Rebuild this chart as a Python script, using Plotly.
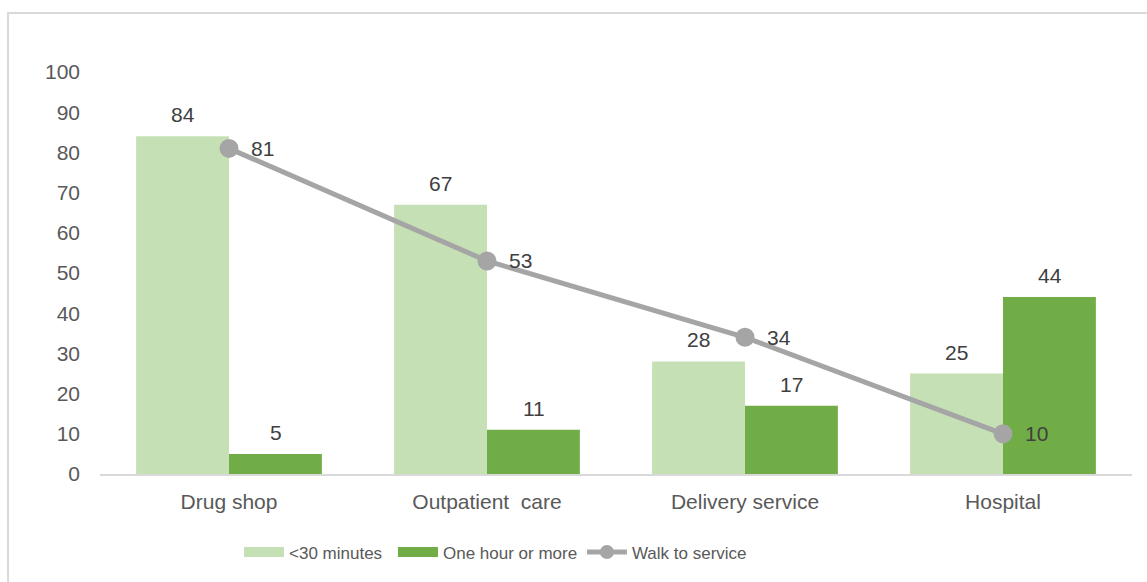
import plotly.graph_objects as go

categories = ["Drug shop", "Outpatient  care", "Delivery service", "Hospital"]
under_30_min = [84, 67, 28, 25]
one_hour_plus = [5, 11, 17, 44]
walk_to_service = [81, 53, 34, 10]
y_ticks = [0, 10, 20, 30, 40, 50, 60, 70, 80, 90, 100]

FONT = "Liberation Sans, Arial, sans-serif"
LABEL_COLOR = "#404040"
TICK_COLOR = "#595959"
SIZE = 21
LEGEND_SIZE = 17
LIGHT = "#C5E0B4"
DARK = "#70AD47"
GREY = "#A5A5A5"

fig = go.Figure()

fig.add_trace(go.Bar(
    x=categories, y=under_30_min, name="<30 minutes", legend="legend",
    marker=dict(color=LIGHT, line=dict(width=0)), showlegend=False,
))
fig.add_trace(go.Bar(
    x=categories, y=one_hour_plus, name="One hour or more", legend="legend2",
    marker=dict(color=DARK, line=dict(width=0)), showlegend=False,
))
fig.add_trace(go.Scatter(
    x=categories, y=walk_to_service, name="Walk to service", legend="legend3",
    mode="lines+markers", showlegend=False,
    line=dict(color=GREY, width=5),
    marker=dict(color=GREY, size=19),
    cliponaxis=False,
))

# legend keys: wide colour swatches for the bars, line-with-dot for the series
fig.add_trace(go.Scatter(x=[None], y=[None], mode="lines", name="<30 minutes",
                         legend="legend", line=dict(color=LIGHT, width=11)))
fig.add_trace(go.Scatter(x=[None], y=[None], mode="lines", name="One hour or more",
                         legend="legend2", line=dict(color=DARK, width=11)))
fig.add_trace(go.Scatter(x=[None], y=[None], mode="lines+markers", name="Walk to service",
                         legend="legend3", line=dict(color=GREY, width=5),
                         marker=dict(color=GREY, size=14)))

annotations = []
bar_offset = 46.5
for cat, v in zip(categories, under_30_min):
    annotations.append(dict(x=cat, y=v, text=str(v), showarrow=False, xshift=-bar_offset,
                            yanchor="bottom", yshift=8))
for cat, v in zip(categories, one_hour_plus):
    annotations.append(dict(x=cat, y=v, text=str(v), showarrow=False, xshift=bar_offset,
                            yanchor="bottom", yshift=8))
for cat, v in zip(categories, walk_to_service):
    annotations.append(dict(x=cat, y=v, text=str(v), showarrow=False, xanchor="left",
                            xshift=20, yanchor="middle"))
for a in annotations:
    a["font"] = dict(family=FONT, size=SIZE, color=LABEL_COLOR)

legend_common = dict(
    orientation="h", xanchor="left", y=-0.195, yanchor="middle",
    font=dict(family=FONT, size=LEGEND_SIZE, color=TICK_COLOR),
    itemwidth=40, bgcolor="rgba(0,0,0,0)",
)

fig.update_layout(
    width=1147, height=582,
    margin=dict(l=100, r=15, t=72, b=108, autoexpand=False),
    paper_bgcolor="white", plot_bgcolor="white",
    barmode="group", bargap=0.28, bargroupgap=0,
    font=dict(family=FONT, size=SIZE, color=TICK_COLOR),
    annotations=annotations,
    legend=dict(x=0.1347, **legend_common),
    legend2=dict(x=0.2839, **legend_common),
    legend3=dict(x=0.467, **legend_common),
    shapes=[dict(
        type="rect", xref="paper", yref="paper",
        x0=-0.0891, x1=1.03, y0=-0.3, y1=1.1468,
        line=dict(color="#D9D9D9", width=2), layer="below",
    )],
)

fig.update_xaxes(
    showgrid=False, showline=True, linecolor="#D9D9D9", linewidth=2,
    ticks="", ticklabelstandoff=8,
    tickfont=dict(family=FONT, size=SIZE, color=TICK_COLOR),
)
fig.update_yaxes(
    range=[0, 100], tickvals=y_ticks, showgrid=False, showline=False,
    zeroline=False, ticks="", ticklabelstandoff=19,
    tickfont=dict(family=FONT, size=SIZE, color=TICK_COLOR),
)

fig.write_html("out.html")
